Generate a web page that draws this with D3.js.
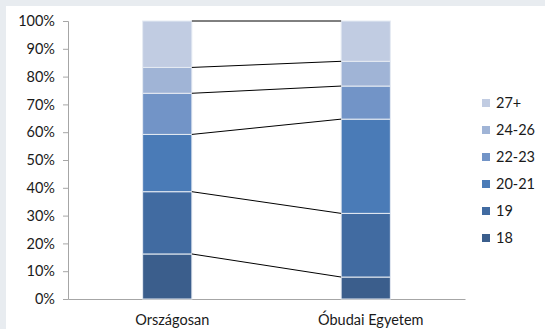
<!DOCTYPE html>
<html>
<head>
<meta charset="utf-8">
<script src="https://cdn.jsdelivr.net/npm/d3@7"></script>
<style>
  body { margin: 0; background: #fff; }
  svg text { font-family: Lato, "Open Sans", "Liberation Sans", sans-serif; fill: #1a1a1a; }
</style>
</head>
<body>
<div id="chart"></div>
<script>
// categories and series (percent shares per age group)
var categories = ["Országosan", "Óbudai Egyetem"];
var groups = ["18", "19", "20-21", "22-23", "24-26", "27+"];
var val18   = [16.2, 7.9];
var val19   = [22.4, 22.9];
var val2021 = [20.6, 33.9];
var val2223 = [14.8, 11.9];
var val2426 = [9.3, 8.9];
var val27   = [16.7, 14.5];
var yTicks = [0, 10, 20, 30, 40, 50, 60, 70, 80, 90, 100];
var colors = ["#3b5e8c", "#416ba1", "#4a7bb7", "#7294c7", "#a0b4d6", "#c1cce2"];

(function() {
    var W = 545, H = 329;
    var m = { left: 68, right: 465, top: 21, bottom: 299 };
    var series = [val18, val19, val2021, val2223, val2426, val27];
    var fs = "14.5px";

    var rows = categories.map(function(c, i) {
        var r = { cat: c };
        groups.forEach(function(g, k) { r[g] = series[k][i]; });
        return r;
    });
    var stacked = d3.stack().keys(groups)(rows);

    var svg = d3.select("#chart").append("svg").attr("width", W).attr("height", H);
    svg.append("rect").attr("width", W).attr("height", H).attr("fill", "#e8ecf0");
    svg.append("rect").attr("x", 6).attr("y", 6).attr("width", W - 6).attr("height", H - 6).attr("fill", "#fff");

    var x = d3.scaleBand().domain(categories).range([m.left, m.right]).paddingInner(0).paddingOuter(0);
    var barW = x.bandwidth() * 0.248;
    var y = d3.scaleLinear().domain([0, 100]).range([m.bottom, m.top]);
    var bx = function(c) { return x(c) + x.bandwidth() / 2 - barW / 2; };

    // y axis
    var yAxis = svg.append("g").attr("transform", "translate(" + m.left + ",0)")
        .call(d3.axisLeft(y).tickValues(yTicks).tickSize(5).tickPadding(8).tickFormat(function(d) { return d + "%"; }));
    yAxis.select(".domain").attr("stroke", "#a6a6a6");
    yAxis.selectAll(".tick line").attr("stroke", "#a6a6a6");
    yAxis.selectAll("text").style("font-size", fs).attr("fill", "#1a1a1a");

    // x axis line
    var xAxis = svg.append("g").attr("transform", "translate(0," + m.bottom + ")")
        .call(d3.axisBottom(x).tickSize(0).tickPadding(16));
    xAxis.select(".domain").attr("stroke", "#a6a6a6");
    xAxis.selectAll("text").style("font-size", fs).attr("fill", "#1a1a1a").attr("dx", 5);

    // bars
    svg.append("g").selectAll("g").data(stacked).join("g")
        .attr("fill", function(d, i) { return colors[i]; })
        .selectAll("rect").data(function(d) { return d; }).join("rect")
        .attr("x", function(d) { return bx(d.data.cat); })
        .attr("width", barW)
        .attr("y", function(d) { return y(d[1]); })
        .attr("height", function(d) { return y(d[0]) - y(d[1]); })
        .attr("stroke", "#e6ebf3").attr("stroke-width", 1);

    // series lines between bars
    svg.append("g").selectAll("line").data(stacked).join("line")
        .attr("x1", bx(categories[0]) + barW)
        .attr("x2", bx(categories[1]))
        .attr("y1", function(d) { return y(d[0][1]); })
        .attr("y2", function(d) { return y(d[1][1]); })
        .attr("stroke", "#000").attr("stroke-width", 1);

    // legend
    var lg = svg.append("g").attr("transform", "translate(482,103)");
    var items = lg.selectAll("g").data(groups.slice().reverse()).join("g")
        .attr("transform", function(d, i) { return "translate(0," + i * 27 + ")"; });
    items.append("rect").attr("x", 0).attr("y", -4).attr("width", 8).attr("height", 8)
        .attr("fill", function(d) { return colors[groups.indexOf(d)]; });
    items.append("text").attr("x", 14).attr("y", 0).attr("dy", "0.35em")
        .style("font-size", fs).text(function(d) { return d; });
})();
</script>
</body>
</html>
